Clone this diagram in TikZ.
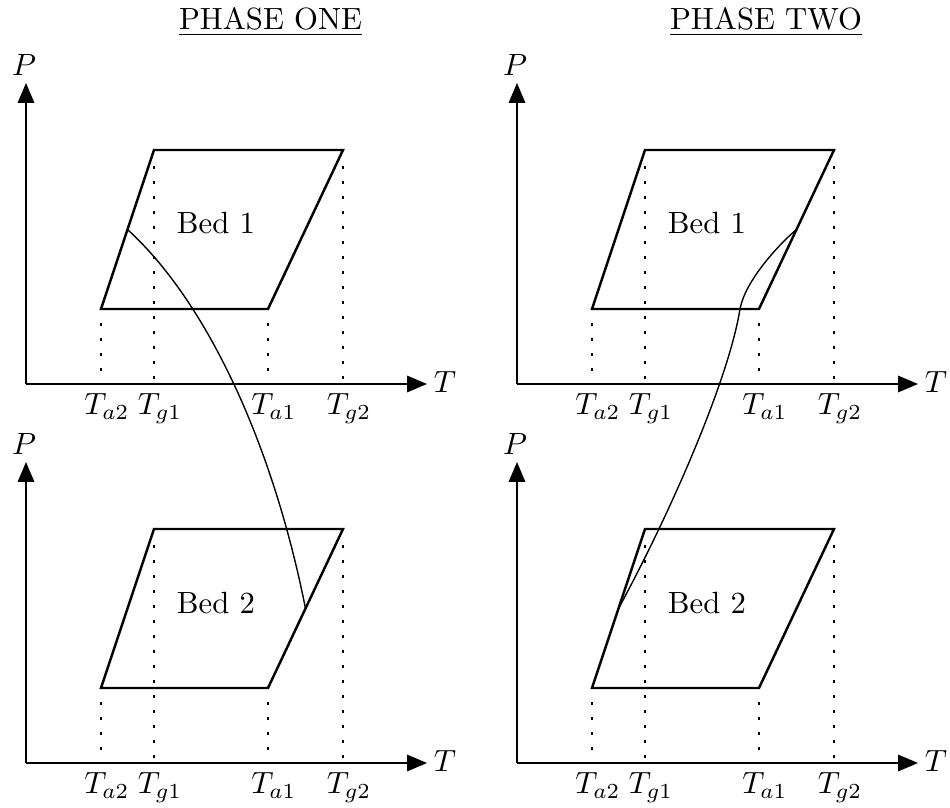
\documentclass[tikz,border=0pt]{standalone}
\usetikzlibrary{arrows.meta,calc}
\begin{document}
\begin{tikzpicture}[x=0.3257pt,y=-0.3257pt,
  axisline/.style={line width=0.45pt,-{Triangle[length=6.5pt,width=5.4pt]}},
  bedbox/.style={line width=0.8pt,line join=miter},
  guide/.style={line width=0.85pt,dash pattern=on 0.85pt off 4.04pt},
  flowcurve/.style={line width=0.45pt},
  lbl/.style={inner sep=0pt}]
\useasboundingbox (0,0) rectangle (950,808);

\node[lbl,anchor=base] (titleA) at (270.5,29.3) {\underline{PHASE ONE}};
\node[lbl,anchor=base] (titleB) at (766,29.3) {\underline{PHASE TWO}};

\foreach \dx/\ph in {0/A,491/B}{
  \foreach \dy/\bd in {0/1,379/2}{
    \coordinate (\ph\bd o) at (26+\dx,384+\dy);
    \coordinate (\ph\bd ytip) at (26+\dx,83+\dy);
    \coordinate (\ph\bd xtip) at (427+\dx,384+\dy);
    \draw[axisline] (\ph\bd o) -- (\ph\bd ytip);
    \draw[axisline] (\ph\bd o) -- (\ph\bd xtip);
    \node[lbl] (\ph\bd P) at (24+\dx,65+\dy) {$P$};
    \node[lbl] (\ph\bd T) at (445+\dx,382+\dy) {$T$};
    \coordinate (\ph\bd bl) at (101+\dx,309+\dy);
    \coordinate (\ph\bd br) at (268+\dx,309+\dy);
    \coordinate (\ph\bd tr) at (343+\dx,150+\dy);
    \coordinate (\ph\bd tl) at (154+\dx,150+\dy);
    \draw[bedbox] (\ph\bd bl) -- (\ph\bd br) -- (\ph\bd tr) -- (\ph\bd tl) -- cycle;
    \node[lbl,anchor=base] (\ph\bd bed) at (216+\dx,234+\dy) {Bed \bd};
    \draw[guide] ($(\ph\bd bl)+(0,14)$) -- (\ph\bd bl |- \ph\bd o);
    \draw[guide] ($(\ph\bd br)+(0,14)$) -- (\ph\bd br |- \ph\bd o);
    \draw[guide] ($(\ph\bd tl)+(0,16)$) -- (\ph\bd tl |- \ph\bd o);
    \draw[guide] ($(\ph\bd tr)+(0,16)$) -- (\ph\bd tr |- \ph\bd o);
    \node[lbl,anchor=north] (\ph\bd la2) at ($(\ph\bd bl |- \ph\bd o)+(6,9)$) {$T_{a2}$};
    \node[lbl,anchor=north] (\ph\bd lg1) at ($(\ph\bd tl |- \ph\bd o)+(6,9)$) {$T_{g1}$};
    \node[lbl,anchor=north] (\ph\bd la1) at ($(\ph\bd br |- \ph\bd o)+(6,9)$) {$T_{a1}$};
    \node[lbl,anchor=north] (\ph\bd lg2) at ($(\ph\bd tr |- \ph\bd o)+(6,9)$) {$T_{g2}$};
  }
}

\coordinate (c1s) at ($(A1bl)!0.5!(A1tl)$);
\coordinate (c1e) at ($(A2br)!0.5!(A2tr)$);
\draw[flowcurve] (c1s) .. controls (205,300) and (272,440) .. (c1e);

\coordinate (c2s) at ($(B1br)!0.5!(B1tr)$);
\coordinate (c2m) at (740,309);
\coordinate (c2e) at ($(B2bl)!0.5!(B2tl)$);
\draw[flowcurve] (c2s) .. controls (776,247) and (745,282) .. (c2m)
  .. controls (729,378) and (672,510) .. (c2e);
\end{tikzpicture}
\end{document}
